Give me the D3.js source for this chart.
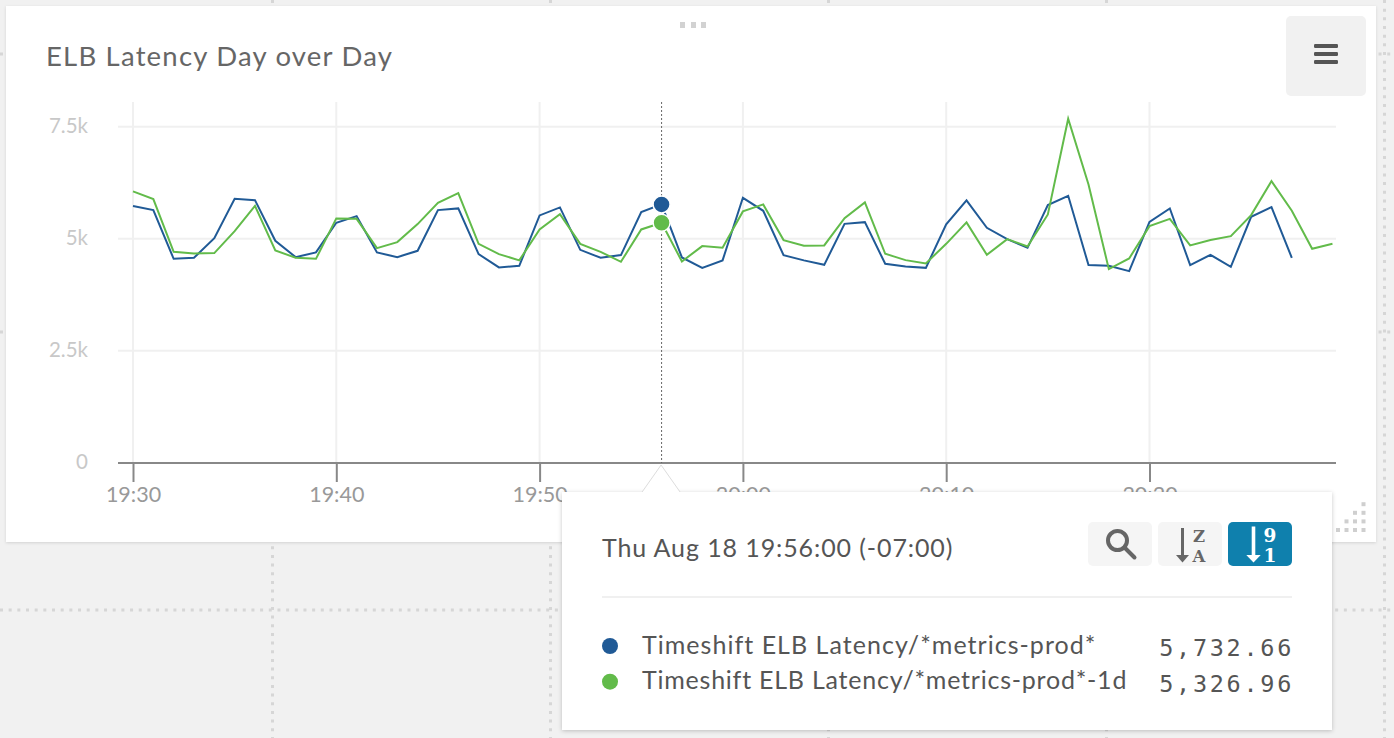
<!DOCTYPE html>
<html><head><meta charset="utf-8">
<script src="https://cdn.jsdelivr.net/npm/d3@7"></script>
<style>html,body{margin:0;padding:0;background:#f1f1f1;overflow:hidden}svg{display:block}svg{font-family:Lato,sans-serif}</style>
</head><body><svg id="c" width="1394" height="738"></svg>
<script>
const chartTitle = "ELB Latency Day over Day";
const minuteTicks = [0,10,20,30,40,50];
const minuteTickLabels = ["19:30","19:40","19:50","20:00","20:10","20:20"];
const valueTicks = [0,2500,5000,7500];
const valueTickLabels = ["0","2.5k","5k","7.5k"];
const seriesNames = ["Timeshift ELB Latency/*metrics-prod*","Timeshift ELB Latency/*metrics-prod*-1d"];
const seriesColors = ["#205a96","#62bb4a"];
const tooltipDate = "Thu Aug 18 19:56:00 (-07:00)";
const tooltipValues = ["5,732.66","5,326.96"];
const hoverMinute = 26;
const seriesToday = [5730,5640,4553,4576,5015,5893,5863,4955,4591,4696,5357,5506,4696,4591,4732,5640,5678,4658,4361,4397,5522,5700,4754,4576,4636,5596,5768,4584,4352,4518,5915,5625,4636,4518,4419,5334,5372,4442,4384,4352,5321,5857,5245,4993,4799,5752,5959,4413,4397,4279,5379,5678,4413,4643,4375,5491,5707,4576];
const seriesYesterday = [6058,5886,4710,4674,4681,5172,5736,4741,4576,4553,5455,5446,4792,4926,5328,5803,6020,4888,4658,4518,5209,5551,4888,4710,4486,5209,5357,4495,4837,4799,5611,5768,4971,4843,4852,5462,5812,4665,4524,4451,4888,5366,4643,4993,4830,5544,7678,6214,4323,4562,5283,5446,4852,4971,5060,5529,6288,5625,4776,4888];

const svg = d3.select("#c");
const defs = svg.append("defs");
const sh = (id,dy,b,o)=>defs.append("filter").attr("id",id).attr("x","-5%").attr("y","-5%").attr("width","110%").attr("height","110%")
  .append("feDropShadow").attr("dx",0).attr("dy",dy).attr("stdDeviation",b).attr("flood-color","#000").attr("flood-opacity",o);
sh("cardS",1,1.5,.13); sh("tipS",1,2,.22);

// dotted dashboard grid
const bg = svg.append("g").attr("stroke","#d6d6d6").attr("stroke-width",3).attr("stroke-dasharray","3 5.67");
[272.5,550.5,828.5,1106.5,1384.5].forEach(x=>bg.append("line").attr("x1",x).attr("x2",x).attr("y1",0).attr("y2",738));
[54,332,610].forEach(y=>bg.append("line").attr("x1",0).attr("x2",1394).attr("y1",y).attr("y2",y));

// card
svg.append("rect").attr("x",6).attr("y",6).attr("width",1370).attr("height",536).attr("fill","#fff").attr("filter","url(#cardS)");
svg.append("text").attr("x",46).attr("y",66).attr("font-size",27.5).attr("fill","#666").attr("letter-spacing",1.2).text(chartTitle);
svg.append("g").attr("fill","#d2d2d2").selectAll("rect").data([680,691,701]).join("rect")
  .attr("x",d=>d).attr("y",22).attr("width",5).attr("height",6);
svg.append("rect").attr("x",1286).attr("y",16).attr("width",80).attr("height",80).attr("rx",5).attr("fill","#f1f1f1");
svg.append("g").attr("fill","#555").selectAll("rect").data([44,52,60]).join("rect")
  .attr("x",1314).attr("y",d=>d).attr("width",24).attr("height",4).attr("rx",1.2);
// resize handle
const handle = svg.append("g").attr("fill","#cfcfcf");
[[1338,1346.5,1355,1363.5],[1346.5,1355,1363.5],[1355,1363.5],[1363.5]].forEach((r,i)=>
  r.forEach(x=>handle.append("rect").attr("x",x-2).attr("y",530-8.6*i-2).attr("width",4).attr("height",4)));

// scales
const x = d3.scaleLinear().domain([0,60]).range([133,1352.8]);
const y = d3.scaleLinear().domain([0,7500]).range([462.8,126.8]);

// grid
const grid = svg.append("g").attr("stroke","#f0f0f0").attr("stroke-width",2);
grid.selectAll(".h").data(valueTicks.slice(1)).join("line").attr("x1",118).attr("x2",1336).attr("y1",d=>y(d)).attr("y2",d=>y(d));
grid.selectAll(".v").data(minuteTicks).join("line").attr("x1",d=>x(d)).attr("x2",d=>x(d)).attr("y1",102).attr("y2",463);

// axes
const ax = svg.append("g").attr("transform","translate(0,463)")
  .call(d3.axisBottom(x).tickValues(minuteTicks).tickFormat((d,i)=>minuteTickLabels[i]).tickSize(19).tickSizeOuter(0));
ax.select(".domain").remove();
ax.append("line").attr("x1",118).attr("x2",1336).attr("stroke","#888").attr("stroke-width",2);
ax.selectAll(".tick line").attr("stroke","#888").attr("stroke-width",2);
ax.selectAll(".tick text").attr("y",39).attr("dy",0).attr("font-size",21.5).attr("font-family","Lato").attr("fill","#999");
const ay = svg.append("g").attr("transform","translate(88,0)")
  .call(d3.axisLeft(y).tickValues(valueTicks).tickFormat((d,i)=>valueTickLabels[i]).tickSize(0).tickPadding(0));
ay.select(".domain").remove();
ay.selectAll(".tick text").attr("dy",5.5).attr("font-size",20.5).attr("font-family","Lato").attr("fill","#c8c8c8");

// lines
const line = d3.line().x((d,i)=>x(i)).y(d=>y(d));
svg.append("g").attr("fill","none").attr("stroke-width",2).attr("stroke-linejoin","miter")
  .selectAll("path").data([seriesToday,seriesYesterday]).join("path")
  .attr("d",line).attr("stroke",(d,i)=>seriesColors[i]);

// crosshair + hover dots
svg.append("line").attr("x1",x(hoverMinute)).attr("x2",x(hoverMinute)).attr("y1",102).attr("y2",463)
  .attr("stroke","#666").attr("stroke-width",1).attr("stroke-dasharray","2 2");
svg.append("g").selectAll("circle").data([seriesToday,seriesYesterday]).join("circle")
  .attr("cx",x(hoverMinute)).attr("cy",d=>y(d[hoverMinute])).attr("r",8.5)
  .attr("fill",(d,i)=>seriesColors[i]).attr("stroke","#fff").attr("stroke-width",1.5);

// tooltip
const tip = svg.append("g");
tip.append("rect").attr("x",562).attr("y",492).attr("width",770).attr("height",238).attr("fill","#fff").attr("filter","url(#tipS)");
const ap = x(hoverMinute)-.5;
tip.append("path").attr("d",`M${ap-19},492.5L${ap},465L${ap+19},492.5Z`).attr("fill","#fff");
tip.append("path").attr("d",`M${ap-19},492L${ap},465L${ap+19},492`).attr("fill","none").attr("stroke","#ddd").attr("stroke-width",1);
tip.append("text").attr("x",602).attr("y",557).attr("font-size",25).attr("fill","#555").attr("letter-spacing",.9).text(tooltipDate);
tip.append("line").attr("x1",602).attr("x2",1292).attr("y1",597).attr("y2",597).attr("stroke","#f0f0f0").attr("stroke-width",2);

// buttons
tip.selectAll(".btn").data([[1088,"#f5f5f5"],[1158,"#f5f5f5"],[1228,"#0f80ad"]]).join("rect")
  .attr("x",d=>d[0]).attr("y",522).attr("width",64).attr("height",44).attr("rx",5).attr("fill",d=>d[1]);
tip.append("circle").attr("cx",1117.5).attr("cy",540.5).attr("r",9.5).attr("fill","none").attr("stroke","#666").attr("stroke-width",4);
tip.append("line").attr("x1",1124.5).attr("y1",547.5).attr("x2",1134.5).attr("y2",557.5).attr("stroke","#666").attr("stroke-width",4).attr("stroke-linecap","round");
const sortIcon = (ax,top,hw,col,a,b,tx,fs,w)=>{
  tip.append("rect").attr("x",ax-w/2).attr("y",top).attr("width",w).attr("height",556-top).attr("fill",col);
  tip.append("path").attr("d",`M${ax-hw},555L${ax+hw},555L${ax},562.5Z`).attr("fill",col);
  [[a,541.5],[b,562]].forEach(([t,yy])=>tip.append("text").attr("x",tx).attr("y",yy).attr("text-anchor","middle")
    .attr("font-family","DejaVu Serif").attr("font-weight","bold").attr("font-size",fs).attr("fill",col).text(t));
};
sortIcon(1182.5,528,6.5,"#666","Z","A",1199,16.5,3);
sortIcon(1253.5,526.5,7.2,"#fff","9","1",1270,18.5,3.6);

// legend rows
const rows = tip.selectAll(".row").data(seriesNames).join("g");
rows.append("circle").attr("cx",610).attr("cy",(d,i)=>646+i*35.7).attr("r",8).attr("fill",(d,i)=>seriesColors[i]);
rows.append("text").attr("x",642).attr("y",(d,i)=>653.5+i*35.7).attr("font-size",25).attr("fill","#555")
  .attr("letter-spacing",(d,i)=>i?.77:1.03).text(d=>d);
rows.append("text").attr("x",1294).attr("y",(d,i)=>656+i*35.7).attr("text-anchor","end")
  .attr("font-family","DejaVu Sans Mono").attr("font-size",23.5).attr("letter-spacing",2.7).attr("fill","#555")
  .text((d,i)=>tooltipValues[i]);
</script></body></html>
